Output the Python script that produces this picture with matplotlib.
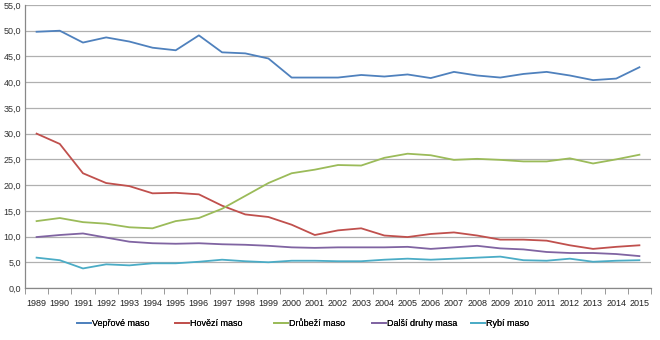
import numpy as np
import matplotlib.pyplot as plt
from matplotlib.lines import Line2D

plt.rcParams['font.family'] = ['Liberation Sans', 'DejaVu Sans']

years = list(range(1989, 2016))
veprove = [49.8, 50.0, 47.7, 48.7, 47.9, 46.7, 46.2, 49.1, 45.8, 45.6, 44.6, 40.9, 40.9, 40.9,
           41.4, 41.1, 41.5, 40.8, 42.0, 41.3, 40.9, 41.6, 42.0, 41.3, 40.4, 40.7, 42.9]
hovezi = [30.0, 28.0, 22.3, 20.4, 19.8, 18.4, 18.5, 18.2, 16.0, 14.3, 13.8, 12.3, 10.3, 11.2,
          11.6, 10.2, 9.9, 10.5, 10.8, 10.2, 9.4, 9.4, 9.2, 8.3, 7.6, 8.0, 8.3]
drubezi = [13.0, 13.6, 12.8, 12.5, 11.8, 11.6, 13.0, 13.6, 15.4, 17.9, 20.4, 22.3, 23.0, 23.9,
           23.8, 25.3, 26.1, 25.8, 24.9, 25.1, 24.9, 24.6, 24.6, 25.2, 24.2, 25.0, 25.9]
dalsi = [9.9, 10.3, 10.6, 9.8, 9.0, 8.7, 8.6, 8.7, 8.5, 8.4, 8.2, 7.9, 7.8, 7.9,
         7.9, 7.9, 8.0, 7.6, 7.9, 8.2, 7.7, 7.5, 7.0, 6.8, 6.8, 6.6, 6.2]
rybi = [5.9, 5.4, 3.8, 4.6, 4.4, 4.8, 4.8, 5.1, 5.5, 5.2, 5.0, 5.3, 5.3, 5.2,
        5.2, 5.5, 5.7, 5.5, 5.7, 5.9, 6.1, 5.4, 5.3, 5.7, 5.1, 5.3, 5.4]

SERIES = [('Vepřové maso', veprove, '#4F81BD'),
          ('Hovězí maso', hovezi, '#C0504D'),
          ('Drůbeží maso', drubezi, '#9BBB59'),
          ('Další druhy masa', dalsi, '#8064A2'),
          ('Rybí maso', rybi, '#4BACC6')]

fig = plt.figure(figsize=(6.6, 3.4), dpi=100)
ax = fig.add_axes([25/660, 52/340, 626/660, 283/340])

x = np.arange(len(years))
for name, vals, col in SERIES:
    ax.plot(x, vals, color=col, lw=1.3, solid_joinstyle='round')

ax.set_xlim(-0.5, len(years) - 0.5)
ax.set_ylim(0, 55)
ax.set_yticks(np.arange(0, 56, 5))
ax.set_yticklabels([f'{v:.1f}'.replace('.', ',') for v in np.arange(0, 56, 5)], fontsize=6.5, color='#333333')
ax.set_xticks(x)
ax.set_xticklabels([str(y) for y in years], fontsize=6.5, color='#222222')
ax.set_xticks(np.arange(-0.5, len(years), 1), minor=True)
ax.tick_params(axis='x', which='major', length=0, pad=8)
ax.tick_params(axis='x', which='minor', length=4, color='#888888')
ax.tick_params(axis='y', length=0, pad=3)
ax.grid(axis='y', color='#b0b0b0', lw=0.9)
ax.set_axisbelow(True)
for s in ['top', 'right']:
    ax.spines[s].set_visible(False)
for s in ['left', 'bottom']:
    ax.spines[s].set_color('#888888')
    ax.spines[s].set_linewidth(0.9)

# legend: evenly spaced entries like the Excel original
for i, (name, vals, col) in enumerate(SERIES):
    h = [Line2D([], [], color=col, lw=1.3)]
    lg = fig.legend(h, [name], loc='center left', bbox_to_anchor=((72 + i * 98.5) / 660, 1 - 324 / 340),
                    frameon=False, fontsize=6.5, handlelength=1.6, handletextpad=0.1, borderpad=0)
    fig.add_artist(lg)

fig.savefig('out.png', dpi=100)
